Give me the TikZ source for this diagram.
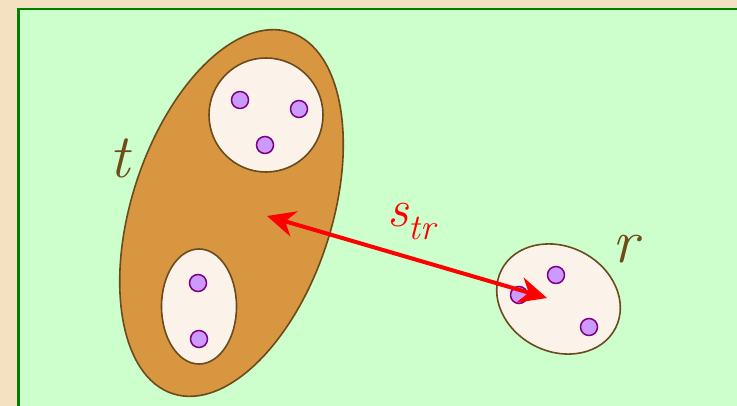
\documentclass[tikz,border=0pt]{standalone}
\usetikzlibrary{shapes.geometric,arrows.meta}
\definecolor{parch}{HTML}{F3E1C1}
\definecolor{panel}{HTML}{CCFFCC}
\definecolor{panelline}{HTML}{008000}
\definecolor{brownline}{HTML}{6B4A1E}
\definecolor{setfill}{HTML}{D7963F}
\definecolor{innerfill}{HTML}{FBF3EA}
\definecolor{dotfill}{HTML}{CC99FF}
\definecolor{dotline}{HTML}{800080}
\definecolor{labelbrown}{HTML}{704A18}
\tikzset{
  setshape/.style={ellipse, draw=brownline, line width=1.6pt, inner sep=0pt},
  outerset/.style={setshape, fill=setfill},
  innerset/.style={setshape, fill=innerfill},
  elem/.style={circle, draw=dotline, fill=dotfill, line width=1.5pt, inner sep=0pt, minimum size=17pt},
  biglabel/.style={text=labelbrown, inner sep=0pt, anchor=base west, font=\fontsize{62}{62}\selectfont\itshape},
  dist/.style={draw=red, line width=4pt, {Stealth[length=28pt, width=26pt, inset=9pt]}-{Stealth[length=28pt, width=26pt, inset=9pt]}}
}
\begin{document}
\begin{tikzpicture}[x=1pt, y=-1pt]
\useasboundingbox (0,0) rectangle (737,406);
\fill[parch] (0,0) rectangle (737,406);
\path[fill=panel, draw=panelline, line width=2.5pt] (18.5,9) rectangle (745,415);
% set t
\node[outerset, minimum width=200pt, minimum height=380pt, rotate=-18] (t) at (231.5,213) {};
\node[innerset, circle, minimum size=114pt] (t1) at (266,115) {};
\node[innerset, minimum width=75pt, minimum height=115pt] (t2) at (199,306.5) {};
\node[elem] (a1) at (240,100) {};
\node[elem] (a2) at (299,109) {};
\node[elem] (a3) at (265,145) {};
\node[elem] (b1) at (198,283) {};
\node[elem] (b2) at (199,339) {};
% set r
\node[innerset, minimum width=128pt, minimum height=105pt, rotate=-27] (r) at (558.5,299) {};
\node[elem] (c1) at (556,275) {};
\node[elem] (c2) at (589,327) {};
\node[elem] (c3) at (519,295) {};
% labels
\node[biglabel] (tl) at (109,178) {t};
\node[biglabel] (rl) at (612,263) {r};
\node[text=red, inner sep=0pt, anchor=base west, font=\fontsize{53}{53}\selectfont\itshape] (sl) at (387,226.5) {s\raisebox{-13pt}{\fontsize{36}{36}\selectfont tr}};
% distance arrow
\coordinate (tc) at (267,216);
\coordinate (rc) at (547,298);
\draw[dist] (tc) -- (rc);
\end{tikzpicture}
\end{document}
